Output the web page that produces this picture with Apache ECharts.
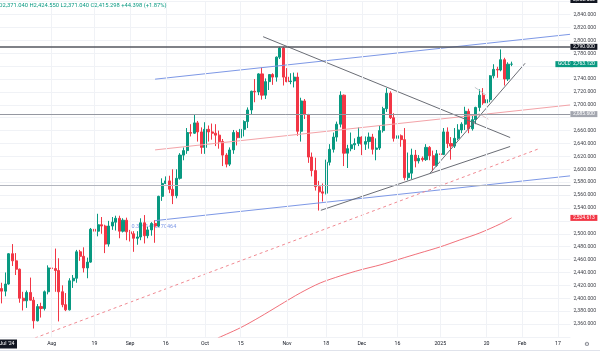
<!DOCTYPE html>
<html><head><meta charset="utf-8">
<script src="https://cdn.jsdelivr.net/npm/echarts@6/dist/echarts.min.js"></script>
<style>html,body{margin:0;padding:0;background:#fff;overflow:hidden}#c{width:600px;height:353px}</style>
</head><body><div id="c"></div><script>
// ---------- categories (trading days, Jul 12 2024 .. Feb 20 2025) ----------
const dates = (function () {
  const out = []; let t = Date.UTC(2024, 6, 12); const end = Date.UTC(2025, 1, 20);
  while (t <= end) { const d = new Date(t); const w = d.getUTCDay(); if (w !== 0 && w !== 6) out.push(d.toISOString().slice(0, 10)); t += 86400000; }
  return out;
})();
const xTickLabels = {
  '2024-08-01': 'Aug', '2024-08-19': '19', '2024-09-02': 'Sep', '2024-09-16': '16',
  '2024-10-01': 'Oct', '2024-10-15': '15', '2024-11-01': 'Nov', '2024-11-18': '18',
  '2024-12-02': 'Dec', '2024-12-16': '16', '2025-01-01': '2025', '2025-01-20': '20',
  '2025-02-03': 'Feb', '2025-02-17': '17'
};
// ---------- OHLC values ----------
const opens = [2415,2411,2422,2469,2458,2445,2400,2396,2409,2397,2365,2387,2384,2410,
 2447,2446,2443,2410,2390,2382,2427,2431,2472,2465,2447,2456,
 2507,2504,2514,2512,2484,2512,2518,2524,2504,2521,
 2503,2500,2493,2495,2517,2497,2506,2516,2512,2558,
 2578,2582,2569,2559,2586,2622,2629,2657,2656,2672,2658,
 2634,2662,2658,2656,2653,2643,2622,2608,2630,2657,2649,2662,2674,2692,2721,2720,2748,2715,2736,2747,2743,2774,2788,
 2743,2736,2737,2743,2659,2706,2685,2619,2598,2573,2565,2563,2611,2631,2650,2670,2715,2625,2632,2638,2640,
 2650,2639,2643,2650,2631,2633,2660,2694,2718,2680,2648,2652,2646,2587,2594,2622,2613,2617,2615,2634,2621,2606,
 2624,2623,2658,2640,2636,2648,2661,2670,2690,2663,2677,2696,2715,2703,2708,2745,2755,2754,2770,2740,2763];
const closes = [2411,2422,2469,2458,2445,2400,2396,2409,2397,2365,2387,2384,2410,2447,
 2446,2443,2410,2390,2382,2427,2431,2472,2465,2447,2456,2507,
 2504,2514,2512,2484,2512,2518,2524,2504,2521,2503,
 2500,2493,2495,2517,2497,2506,2516,2512,2558,2578,
 2582,2569,2559,2586,2622,2629,2657,2656,2672,2658,2634,
 2662,2658,2656,2653,2643,2622,2608,2630,2657,2649,2662,2674,2692,2721,2720,2748,2715,2736,2747,2743,2774,2788,2743,
 2736,2737,2743,2659,2706,2685,2619,2598,2573,2565,2563,2611,2631,2650,2670,2715,2625,2632,2638,2640,2650,
 2639,2643,2650,2631,2633,2660,2694,2718,2680,2648,2652,2646,2587,2594,2622,2613,2617,2615,2634,2621,2606,2624,
 2623,2658,2640,2636,2648,2661,2670,2690,2663,2677,2696,2715,2703,2708,2745,2755,2754,2770,2740,2763,2763.12];
const highs = [2424,2440,2470,2484,2470,2446,2410,2412,2432,2402,2391,2393,2412,2451,
 2470,2477,2462,2420,2408,2431,2436,2475,2475,2479,2463,2509,
 2510,2531,2526,2514,2520,2526,2528,2528,2524,2525,
 2506,2504,2504,2524,2529,2511,2518,2521,2559,2586,
 2589,2590,2600,2600,2625,2634,2664,2670,2685,2675,2665,
 2673,2668,2671,2670,2660,2647,2625,2634,2661,2660,2667,2676,2696,2722,2740,2749,2758,2741,2747,2749,2775,2790,2790,
 2757,2749,2750,2750,2711,2709,2686,2626,2618,2582,2578,2615,2639,2657,2674,2721,2716,2638,2657,2648,2665,
 2651,2651,2657,2655,2648,2668,2697,2726,2721,2687,2665,2654,2664,2626,2632,2630,2622,2620,2639,2636,2629,2630,
 2626,2664,2665,2650,2664,2670,2673,2697,2694,2684,2697,2724,2726,2713,2746,2763,2759,2786,2773,2766,2767];
const lows = [2392,2403,2421,2450,2436,2393,2381,2385,2398,2353,2364,2370,2381,2406,
 2432,2410,2364,2386,2380,2381,2416,2424,2458,2440,2431,2455,
 2486,2496,2500,2470,2480,2506,2505,2493,2502,2490,
 2488,2472,2483,2490,2485,2493,2497,2486,2510,2551,
 2577,2563,2546,2555,2584,2614,2624,2651,2655,2643,2624,
 2624,2643,2646,2636,2632,2605,2603,2605,2624,2637,2640,2651,2664,2685,2704,2715,2708,2709,2723,2731,2736,2771,2730,
 2735,2732,2727,2652,2643,2678,2610,2589,2567,2536,2550,2561,2606,2626,2643,2665,2605,2602,2628,2630,2636,
 2622,2630,2632,2623,2614,2630,2657,2689,2678,2643,2641,2635,2583,2583,2585,2603,2609,2612,2613,2614,2597,2604,
 2622,2622,2633,2615,2633,2645,2656,2661,2656,2660,2670,2690,2700,2688,2704,2741,2742,2752,2730,2737,2760];
// ---------- moving average : [bar index, price] ----------
const maPoints = [[60.6,2338.3],[66.8,2353.8],[72.4,2370.9],[78.0,2389.5],[83.7,2408.1],[89.3,2423.6],[94.9,2434.5],
 [100.5,2443.8],[106.1,2451.6],[111.7,2460.9],[117.3,2470.2],[122.9,2479.5],[128.5,2490.4],[134.1,2501.3],[139.8,2515.2],[143,2524.613]];
// ---------- drawings : [bar index, price] ----------
const regressionUpper = [[43.0, 2739.8], [159.4, 2809.4]];
const regressionMid   = [[43.0, 2630.1], [159.4, 2699.8]];
const regressionLower = [[43.0, 2520.4], [159.4, 2589.8]];
const dashedTrend     = [[9.3, 2338.3], [151.0, 2632.6]];
const descLine        = [[73.3, 2805.7], [142.6, 2649.3]];
const ascLine         = [[89.5, 2536.4], [142.6, 2635.4]];
const steepLine       = [[120.1, 2593.8], [146.8, 2764.5]];
const tickA           = [[132.7, 2727.2], [135.8, 2715.3]];
const tickB           = [[133.7, 2686.9], [136.5, 2677.6]];
const levels = [2790, 2685.6, 2575.6];
const lastPrice = 2763.12, maLast = 2524.613;
const pearsonText = '0.3891470170464', pearsonAt = [36.4, 2510.6];
const header = 'O2,371.040 H2,424.550 L2,371.040 C2,415.298 +44.398 (+1.87%)';
const hiddenYLabels = [2760, 2680, 2520];

const FONT = 'Roboto';
const fmt = v => v.toLocaleString('en-US', {minimumFractionDigits: 3, maximumFractionDigits: 3});
const candles = opens.map((o, i) => [o, closes[i], lows[i], highs[i]]);
const chart = echarts.init(document.getElementById('c'), null, {renderer: 'canvas'});
const GREEN = '#089981', RED = '#f23645';
const lineSeries = (data, color, width, type, z) => ({
  type: 'line', xAxisIndex: 1, data, showSymbol: false, symbol: 'none', silent: true, z: z || 3,
  lineStyle: {color, width, type: type || 'solid'}, clip: true
});
chart.setOption({
  animation: false,
  backgroundColor: '#ffffff',
  grid: {left: 0, right: 29.6, top: 1.7, bottom: 16.1},
  xAxis: [{
    type: 'category', data: dates, boundaryGap: true,
    axisLine: {show: false}, axisTick: {show: false},
    axisLabel: {interval: (i, v) => !!xTickLabels[v], formatter: v => xTickLabels[v] || '', fontSize: 5.2, color: '#131722', margin: 4.5, fontFamily: FONT},
    splitLine: {show: false}
  }, {type: 'value', min: -0.5, max: 159.5, show: false}],
  yAxis: {
    type: 'value', position: 'right', min: 2340, max: 2860, interval: 20, scale: true,
    axisLine: {show: false}, axisTick: {show: false},
    axisLabel: {formatter: v => hiddenYLabels.includes(v) ? '' : fmt(v), fontSize: 5.2, color: '#3d3f47', margin: 3, fontFamily: FONT, showMinLabel: false, showMaxLabel: false},
    splitLine: {show: true, lineStyle: {color: '#f0f2f6', width: 1}}
  },
  series: [
    {type: 'line', data: dates.map(() => '-'), z: 0, silent: true, showSymbol: false,
     markLine: {silent: true, symbol: ['none', 'none'], label: {show: false}, animation: false,
       lineStyle: {color: '#f0f2f6', width: 1, type: 'solid'},
       data: Object.keys(xTickLabels).map(d => ({xAxis: d}))}},
    {type: 'candlestick', data: candles, barWidth: '72%', z: 2,
     itemStyle: {color: GREEN, color0: RED, borderColor: GREEN, borderColor0: RED, borderWidth: 1},
     markLine: {silent: true, symbol: ['none', 'none'], animation: false,
       data: [
         {yAxis: levels[0], lineStyle: {color: '#55575f', width: 1.5, type: 'solid'},
          label: {show: true, position: 'end', distance: 0, formatter: fmt(levels[0]), color: '#fff', backgroundColor: '#131722', padding: [0.5, 2.5], fontSize: 5, lineHeight: 5, fontFamily: FONT}},
         {yAxis: levels[1], lineStyle: {color: '#9598a1', width: 1, type: 'solid'},
          label: {show: true, position: 'end', distance: 0, formatter: fmt(levels[1]), color: '#fff', backgroundColor: '#a3a6af', padding: [0.5, 2.5], fontSize: 5, lineHeight: 5, fontFamily: FONT}},
         {yAxis: levels[2], lineStyle: {color: '#b2b5be', width: 1, type: 'solid'}, label: {show: false}}
       ]}},
    lineSeries(regressionUpper, '#7d98e6', 1),
    lineSeries(regressionMid, '#f3a3a8', 1),
    lineSeries(regressionLower, '#7d98e6', 1),
    lineSeries(dashedTrend, '#f08a92', 1, [3, 3]),
    lineSeries(descLine, '#6a6d75', 1),
    lineSeries(ascLine, '#6a6d75', 1),
    lineSeries(steepLine, '#6a6d75', 1),
    lineSeries(tickA, '#b4b7bf', 0.8),
    lineSeries(tickB, '#d9b4b8', 0.8),
    Object.assign(lineSeries(maPoints, '#f0707a', 1), {smooth: 0.3})
  ]
});
const yP = v => chart.convertToPixel({yAxisIndex: 0}, v);
const xP = v => chart.convertToPixel({xAxisIndex: 1}, v);
const right = xP(159.5);
const box = (text, x, y, bg, extra) => Object.assign({
  type: 'text', z: 10, x, y,
  style: {text, fill: '#fff', backgroundColor: bg, padding: [0.5, 2.5], fontSize: 5, lineHeight: 5, fontFamily: FONT, verticalAlign: 'middle', align: 'left'}
}, extra || {});
chart.setOption({
  graphic: [
    {type: 'text', z: 1, x: xP(pearsonAt[0]), y: yP(pearsonAt[1]), style: {text: pearsonText, fill: '#7d98e6', fontSize: 5.5, fontFamily: FONT, verticalAlign: 'middle'}},
    box('GOLD', right - 15, yP(lastPrice), GREEN),
    box(fmt(lastPrice), right, yP(lastPrice), GREEN),
    box(fmt(maLast), right, yP(maLast), RED),
    box('2,862.550', right, 0, '#131722'),
    {type: 'text', z: 10, x: -1.5, y: 6, style: {text: header, fill: GREEN, fontSize: 5.8, fontFamily: FONT, verticalAlign: 'middle'}},
    {type: 'rect', z: 10, shape: {x: -4, y: 339.5, width: 21, height: 9}, style: {fill: '#131722'}},
    {type: 'text', z: 11, x: 7, y: 344, style: {text: "Jul '24", fill: '#fff', fontSize: 5.2, fontFamily: FONT, align: 'center', verticalAlign: 'middle'}},
    {type: 'line', z: 10, shape: {x1: 0, y1: 350.5, x2: 600, y2: 350.5}, style: {stroke: '#e0e3eb', lineWidth: 1}},
    {type: 'text', z: 10, x: 587, y: 344, style: {text: '⚙', fill: '#6a6d78', fontSize: 6, align: 'center', verticalAlign: 'middle', fontFamily: 'DejaVu Sans'}}
  ]
});
</script></body></html>
